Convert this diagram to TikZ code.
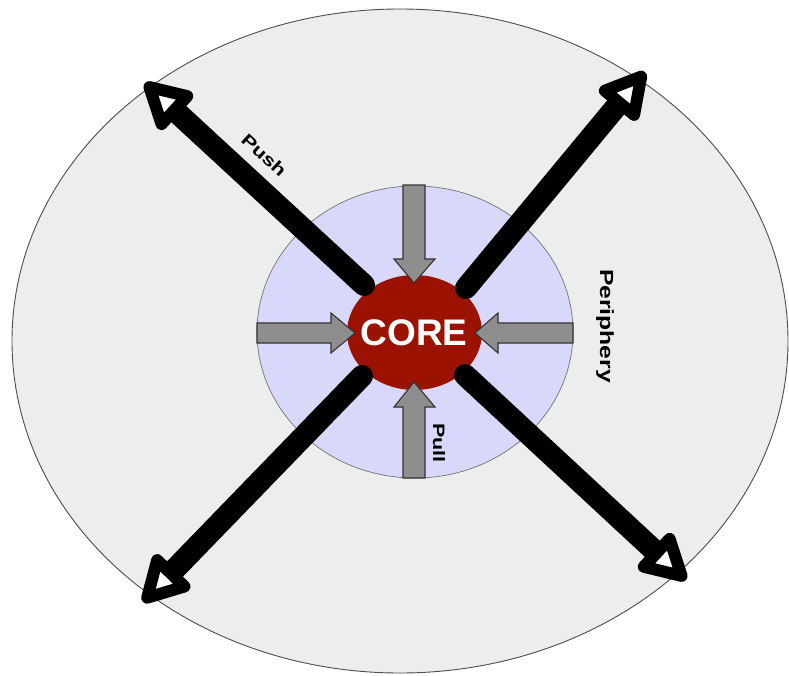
\documentclass[tikz,border=0pt]{standalone}
\usepackage{fontspec}
\setmainfont{Liberation Sans}
\newfontfamily\widelabel[FakeStretch=1.3]{Liberation Sans Bold}
\usetikzlibrary{calc}
\definecolor{outerfill}{HTML}{ECEEED}
\definecolor{innerfill}{HTML}{D8D8FA}
\definecolor{corered}{HTML}{9C1200}
\definecolor{pullgray}{HTML}{8E8E8E}
\tikzset{
  outerring/.style={fill=outerfill, draw=black!70, line width=0.9pt},
  innerring/.style={fill=innerfill, draw=black!55, line width=0.7pt},
  coreblob/.style={fill=corered, draw=none},
  shaftline/.style={line width=22pt, line cap=round, draw=black},
  headtri/.style={line width=12pt, line join=round, draw=black, fill=white},
  pullarrow/.style={fill=pullgray, draw=black!80, line width=1.1pt, line join=miter},
  lbl/.style={text=black, inner sep=0pt},
}
\newcommand\pusharrow[2]{%
  \coordinate (ptip) at ($(#2)!6pt!(#1)$);
  \coordinate (pbase) at ($(#2)!40pt!(#1)$);
  \draw[shaftline] (#1) -- (pbase);
  \draw[headtri] (ptip) -- ($(pbase)!19pt!90:(ptip)$) -- ($(pbase)!19pt!-90:(ptip)$) -- cycle;
}
\begin{document}
\begin{tikzpicture}[x=1pt,y=-1pt]
\useasboundingbox (0,0) rectangle (789,675);
% rings
\draw[outerring] (400,341) ellipse [x radius=388, y radius=332];
\draw[innerring] (415,332) ellipse [x radius=158, y radius=146];
% core
\fill[coreblob] (414.5,332.5) ellipse [x radius=67.5, y radius=57.5];
% push arrows
\coordinate (nws) at (364,285); \coordinate (nwt) at (145,83);
\coordinate (nes) at (466,288); \coordinate (net) at (645,72);
\coordinate (sws) at (362,376); \coordinate (swt) at (143,602);
\coordinate (ses) at (465,375); \coordinate (set) at (686,580);
\pusharrow{nws}{nwt}
\pusharrow{nes}{net}
\pusharrow{sws}{swt}
\pusharrow{ses}{set}
% pull arrows
\draw[pullarrow] (403,185) -- (425,185) -- (425,259) -- (435,259) -- (414,283) -- (394,259) -- (403,259) -- cycle;
\draw[pullarrow] (403,478) -- (425,478) -- (425,407) -- (435,407) -- (414,382) -- (394,407) -- (403,407) -- cycle;
\draw[pullarrow] (257,323) -- (331,323) -- (331,313) -- (355,333) -- (331,353) -- (331,343) -- (257,343) -- cycle;
\draw[pullarrow] (573,323) -- (498,323) -- (498,313) -- (475,333) -- (498,353) -- (498,343) -- (573,343) -- cycle;
% labels
\node[lbl, text=white, font=\bfseries\fontsize{37}{40}\selectfont] (core) at (414,333) {CORE};
\node[lbl, font=\widelabel\fontsize{17}{19}\selectfont, rotate=-42.7] (push) at (264,155) {Push};
\node[lbl, font=\widelabel\fontsize{19}{21}\selectfont, rotate=-90] (periph) at (605,326) {Periphery};
\node[lbl, font=\widelabel\fontsize{16.5}{18}\selectfont, rotate=-90] (pull) at (439,443) {Pull};
\end{tikzpicture}
\end{document}
